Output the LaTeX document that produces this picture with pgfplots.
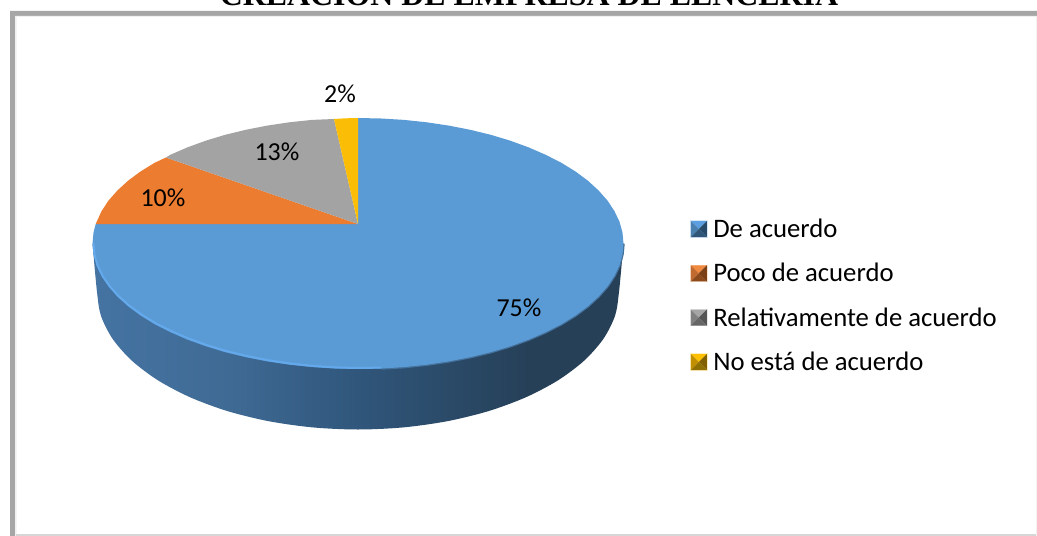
\documentclass[border=0pt]{standalone}
\usepackage{pgfplots}
\pgfplotsset{compat=1.18}
\usepackage{pgfplotstable}
\usepackage{fontspec}
\setmainfont{Carlito}
\newfontfamily\titlefont{Liberation Serif}

\definecolor{cblue}{HTML}{5B9BD5}
\definecolor{corange}{HTML}{EB7C30}
\definecolor{cgrey}{HTML}{A3A3A3}
\definecolor{cyellow}{HTML}{FBBD05}
\definecolor{framegrey}{HTML}{A6A6A6}
\definecolor{rimlight}{HTML}{64A9EC}
\definecolor{rimdark}{HTML}{44719B}

\definecolor{sa}{HTML}{4E86BC}
\definecolor{sb}{HTML}{4777A8}
\definecolor{sc}{HTML}{3F6A94}
\definecolor{sd}{HTML}{30567B}
\definecolor{se}{HTML}{264058}
\definecolor{sf}{HTML}{243E56}
% side of the disc, dark from about 2/3 of the width on
\pgfdeclarehorizontalshading{pieside}{100bp}{
  color(0bp)=(sa);
  color(20bp)=(sb);
  color(38bp)=(sc);
  color(50bp)=(sd);
  color(66bp)=(se);
  color(100bp)=(sf)}

% legend key with four bevel faces: top, left, right, bottom
\newcommand{\bevelkeyc}[4]{\addlegendimage{legend image code/.code={
  \path[draw=none] (0bp,0bp) -- (22.5bp,0bp);
  \fill[draw=none, #1!25!white] (-0.8bp,-8.8bp) rectangle (16.8bp,8.8bp);
  \fill[draw=none, #1] (0bp,8bp) -- (16bp,8bp) -- (8bp,0bp) -- cycle;
  \fill[draw=none, #2] (0bp,8bp) -- (0bp,-8bp) -- (8bp,0bp) -- cycle;
  \fill[draw=none, #3] (16bp,8bp) -- (16bp,-8bp) -- (8bp,0bp) -- cycle;
  \fill[draw=none, #4] (0bp,-8bp) -- (16bp,-8bp) -- (8bp,0bp) -- cycle;
}}}

\definecolor{kbt}{HTML}{5B9FE0}\definecolor{kbl}{HTML}{4A80B0}\definecolor{kbr}{HTML}{274A68}\definecolor{kbb}{HTML}{2F5678}
\definecolor{kot}{HTML}{F08A40}\definecolor{kol}{HTML}{C06A30}\definecolor{kor}{HTML}{7A4018}\definecolor{kob}{HTML}{8C4A1C}
\definecolor{kgt}{HTML}{A5A5A5}\definecolor{kgl}{HTML}{808080}\definecolor{kgr}{HTML}{555555}\definecolor{kgb}{HTML}{666666}
\definecolor{kyt}{HTML}{FFC000}\definecolor{kyl}{HTML}{C09000}\definecolor{kyr}{HTML}{806000}\definecolor{kyb}{HTML}{907000}

% face arcs in picture pixels, y running down
\pgfplotstableread{
x y
358 224
358 118
381.2 118.5
404.1 119.9
426.7 122.3
448.8 125.6
470.2 129.8
490.8 134.8
510.3 140.7
528.7 147.4
545.7 154.8
561.4 162.8
575.5 171.5
587.9 180.7
598.6 190.5
607.5 200.6
614.4 211.0
619.5 221.7
622.5 232.6
623.5 243.5
622.5 254.4
619.5 265.3
614.4 276.0
607.5 286.4
598.6 296.5
587.9 306.3
575.5 315.5
561.4 324.2
545.7 332.2
528.7 339.6
510.3 346.3
490.8 352.2
470.2 357.2
448.8 361.4
426.7 364.7
404.1 367.1
381.2 368.5
358 369
334.8 368.5
311.9 367.1
289.3 364.7
267.2 361.4
245.8 357.2
225.2 352.2
205.7 346.3
187.3 339.6
170.3 332.2
154.6 324.2
140.5 315.5
128.1 306.3
117.4 296.5
108.5 286.4
101.6 276.0
96.5 265.3
93.5 254.4
92.5 243.5
93.5 232.6
95.7 224
}\faceblue

\pgfplotstableread{
x y
358 224
95.7 224
101.6 211.0
108.5 200.6
117.4 190.5
128.1 180.7
140.5 171.5
154.6 162.8
166 157.5
}\faceorange

\pgfplotstableread{
x y
358 224
166 157.5
170.3 154.8
187.3 147.4
205.7 140.7
225.2 134.8
245.8 129.8
267.2 125.6
289.3 122.3
311.9 119.9
334 119
}\facegrey

\pgfplotstableread{
x y
358 224
334 119
345.8 118.3
358 118
}\faceyellow

\pgfplotstableread{
x y
92.5 243.5
97 292
101 315.9
112.7 339
132 360.8
158.1 380.4
190.2 397.3
227.5 411.1
268.7 421.2
312.7 427.4
358 429.5
403.3 427.4
447.3 421.2
488.5 411.1
525.8 397.3
557.9 380.4
584 360.8
603.3 339
615 315.9
619 292
623.5 243.5
}\sideoutline

% rim of the face: light on the front left, shadowed on the right
\pgfplotstableread{
x y
93.5 243.5
94.5 254.4
97.5 265.3
102.6 276.0
109.5 286.0
118.4 296.0
129.1 305.5
141.5 314.5
155.6 323.2
171.3 331.0
188.3 338.4
206.7 345.0
226.2 351.0
246.8 356.0
268.2 360.2
290.3 363.5
312.9 365.9
335.8 367.4
358 368
381.2 367.6
}\rimleft

\pgfplotstableread{
x y
381.2 368.5
404.1 367.1
426.7 364.7
448.8 361.4
470.2 357.2
490.8 352.2
510.3 346.3
528.7 339.6
545.7 332.2
561.4 324.2
575.5 315.5
587.9 306.3
598.6 296.5
607.5 286.4
614.4 276.0
619.5 265.3
622.5 254.4
623.5 243.5
}\rimright

\begin{document}
\begin{tikzpicture}
\useasboundingbox (0,0) rectangle (1037bp,536bp);
\clip (0,0) rectangle (1037bp,536bp);
\begin{axis}[
    at={(0,0)}, anchor=south west,
    scale only axis,
    width=1037bp, height=536bp,
    xmin=0, xmax=1037, ymin=0, ymax=536,
    y dir=reverse,
    axis lines=none,
    clip=false,
    legend cell align=left,
    legend style={
        at={(axis cs:690,219)}, anchor=north west,
        draw=none, fill=none,
        font=\fontsize{26.8}{30}\selectfont,
        row sep=24.3bp, inner sep=0pt, outer sep=0pt,
        nodes={inner sep=0pt, outer sep=0pt},
    },
]
% frame
\addplot[draw=none, fill=framegrey, forget plot] coordinates {(10,11)(1037,11)(1037,16)(15,16)(15,536)(10,536)} -- cycle;
\addplot[draw=none, fill=black!6, forget plot] coordinates {(15,16)(1037,16)(1037,17)(16.5,17)(16.5,536)(15,536)} -- cycle;
\addplot[draw=none, fill=black!16, forget plot] coordinates {(16,533.5)(1037,533.5)(1037,536)(16,536)} -- cycle;
\addplot[draw=none, fill=black!5, forget plot] coordinates {(1035.5,17)(1037,17)(1037,536)(1035.5,536)} -- cycle;
% disc
\addplot[draw=none, shading=pieside, smooth, forget plot] table {\sideoutline} -- cycle;
\addplot[rimdark, line width=2.5bp, forget plot] table {\rimright};
\addplot[draw=none, fill=cblue, forget plot] table {\faceblue} -- cycle;
\addplot[draw=none, fill=corange, forget plot] table {\faceorange} -- cycle;
\addplot[draw=none, fill=cgrey, forget plot] table {\facegrey} -- cycle;
\addplot[draw=none, fill=cyellow, forget plot] table {\faceyellow} -- cycle;
\addplot[rimlight, line width=2bp, forget plot] table {\rimleft};
% legend
\bevelkeyc{kbt}{kbl}{kbr}{kbb}
\addlegendentry{De acuerdo}
\bevelkeyc{kot}{kol}{kor}{kob}
\addlegendentry{Poco de acuerdo}
\bevelkeyc{kgt}{kgl}{kgr}{kgb}
\addlegendentry{Relativamente de acuerdo}
\bevelkeyc{kyt}{kyl}{kyr}{kyb}
\addlegendentry{No está de acuerdo}
% value labels
\node[font=\fontsize{26}{30}\selectfont] at (axis cs:340,94) {2\%};
\node[font=\fontsize{26}{30}\selectfont] at (axis cs:277,152) {13\%};
\node[font=\fontsize{26}{30}\selectfont] at (axis cs:163,198) {10\%};
\node[font=\fontsize{26}{30}\selectfont] at (axis cs:519,308) {75\%};
% title, cut by the top edge as in the source
\node[font=\titlefont\bfseries\fontsize{32}{36}\selectfont, anchor=base] at (axis cs:529,6) {CREACIÓN DE EMPRESA DE LENCERÍA};
\end{axis}
\end{tikzpicture}
\end{document}
